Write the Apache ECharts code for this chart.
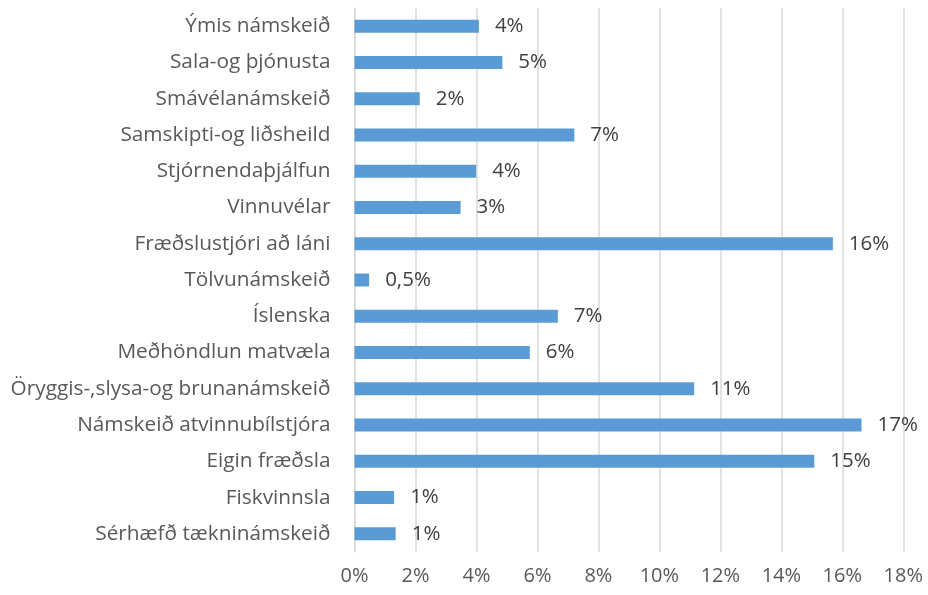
<!DOCTYPE html>
<html>
<head>
<meta charset="utf-8">
<script src="https://cdn.jsdelivr.net/npm/echarts@6/dist/echarts.min.js"></script>
<style>
html,body{margin:0;padding:0;background:#fff;}
#chart{width:928px;height:595px;}
</style>
</head>
<body>
<div id="chart"></div>
<script>
// Categories listed bottom-to-top (ECharts category y-axis starts at bottom)
const categories = [
  "Sérhæfð tækninámskeið",
  "Fiskvinnsla",
  "Eigin fræðsla",
  "Námskeið atvinnubílstjóra",
  "Öryggis-,slysa-og brunanámskeið",
  "Meðhöndlun matvæla",
  "Íslenska",
  "Tölvunámskeið",
  "Fræðslustjóri að láni",
  "Vinnuvélar",
  "Stjórnendaþjálfun",
  "Samskipti-og liðsheild",
  "Smávélanámskeið",
  "Sala-og þjónusta",
  "Ýmis námskeið"
];
const values = [1.35, 1.30, 15.08, 16.63, 11.14, 5.75, 6.67, 0.48, 15.69, 3.48, 3.99, 7.21, 2.14, 4.85, 4.08];
const valueLabels = ["1%", "1%", "15%", "17%", "11%", "6%", "7%", "0,5%", "16%", "3%", "4%", "7%", "2%", "5%", "4%"];
const tickMin = 0, tickMax = 18, tickStep = 2;

const chart = echarts.init(document.getElementById('chart'), null, {renderer: 'canvas'});
const font = '"Open Sans", "Noto Sans", sans-serif';
chart.setOption({
  animation: false,
  backgroundColor: '#ffffff',
  grid: {left: 354.5, right: 24.7, top: 8, bottom: 43, containLabel: false},
  xAxis: {
    type: 'value',
    min: tickMin, max: tickMax, interval: tickStep,
    axisLine: {show: false},
    axisTick: {show: false},
    splitLine: {show: true, lineStyle: {color: '#d9d9d9', width: 1.5}},
    axisLabel: {
      formatter: v => v + '%',
      color: '#595959', fontSize: 20, fontFamily: font, margin: 14
    }
  },
  yAxis: {
    type: 'category',
    data: categories,
    axisLine: {show: true, lineStyle: {color: '#d9d9d9', width: 1.5}},
    axisTick: {show: false},
    axisLabel: {color: '#595959', fontSize: 20.8, fontFamily: font, margin: 24}
  },
  series: [{
    type: 'bar',
    data: values,
    barWidth: 13,
    itemStyle: {color: '#5b9bd5'},
    label: {
      show: true,
      position: 'right',
      distance: 16,
      color: '#404040',
      fontSize: 20.5,
      fontFamily: font,
      formatter: p => valueLabels[p.dataIndex]
    }
  }]
});
</script>
</body>
</html>
